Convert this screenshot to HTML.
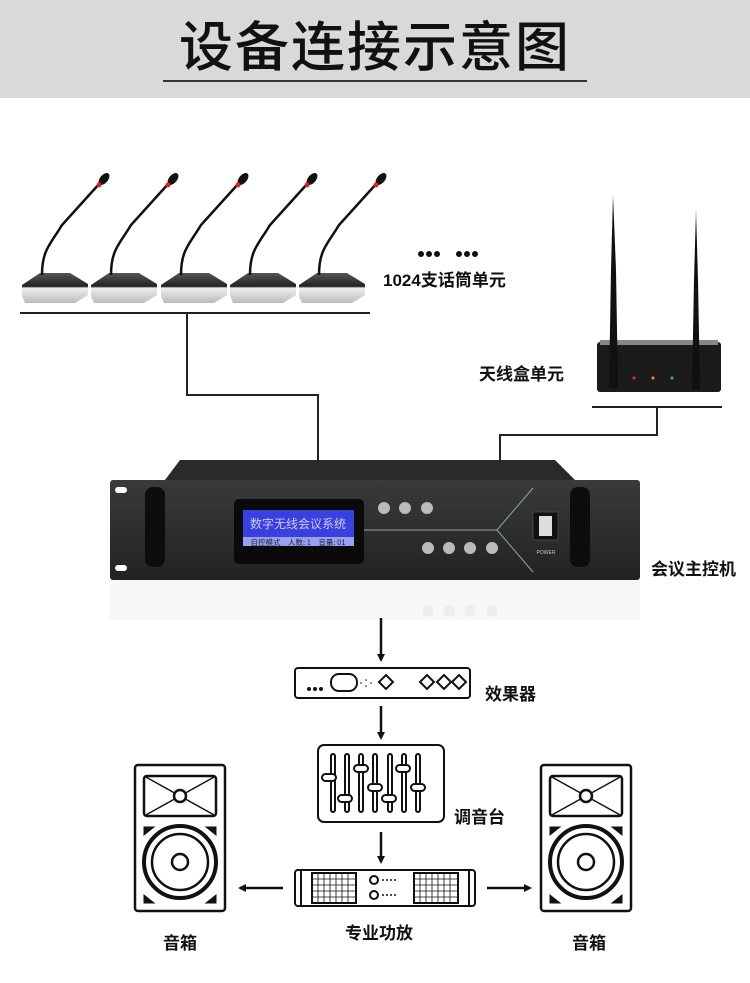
<!DOCTYPE html>
<html><head><meta charset="utf-8"><style>
html,body{margin:0;padding:0;background:#fff;}
body{width:750px;height:983px;overflow:hidden;position:relative;font-family:"Liberation Sans","Noto Sans CJK SC",sans-serif;}
.hd{position:absolute;left:0;top:0;width:750px;height:98px;background:#d9d9d9;}
.t{position:absolute;left:0;width:750px;top:17px;text-align:center;font-size:54px;letter-spacing:2px;color:#111;font-weight:500;line-height:62px;}
.lb{position:absolute;font-weight:bold;color:#111;font-size:17px;white-space:nowrap;}
</style></head><body>
<div class="hd"><div class="t">设备连接示意图</div>
<div style="position:absolute;left:163px;top:80px;width:424px;height:2px;background:#333"></div></div>

<svg width="750" height="983" style="position:absolute;left:0;top:0" xmlns="http://www.w3.org/2000/svg">
<defs>
<linearGradient id="base" x1="0" y1="0" x2="0" y2="1"><stop offset="0" stop-color="#555"/><stop offset="0.45" stop-color="#222"/><stop offset="0.5" stop-color="#eee"/><stop offset="1" stop-color="#bbb"/></linearGradient>
<linearGradient id="chas" x1="0" y1="0" x2="0" y2="1"><stop offset="0" stop-color="#3a3a3a"/><stop offset="1" stop-color="#222"/></linearGradient>
<marker id="ar" markerWidth="8" markerHeight="8" refX="6" refY="4" orient="auto" markerUnits="userSpaceOnUse"><path d="M0,0 L8,4 L0,8 z" fill="#111"/></marker>
</defs>
<g fill="none" stroke="#222" stroke-width="2">
<line x1="20" y1="313" x2="370" y2="313"/>
<polyline points="187,313 187,395 318,395 318,460"/>
<line x1="592" y1="407" x2="722" y2="407"/>
<polyline points="657,407 657,435 500,435 500,460"/>
</g>
<g>
<g id="m">
<path d="M22,285 L40,273 L70,273 L88,284 L88,295 L75,303 L25,303 L22,296 Z" fill="url(#base)"/>
<path d="M42,275 C42,250 50,245 62,225 L100,183" stroke="#111" stroke-width="2.5" fill="none"/>
<ellipse cx="104" cy="179" rx="4" ry="7" transform="rotate(40 104 179)" fill="#111"/>
<circle cx="99" cy="185" r="2.5" fill="#d22"/>
</g>
<use href="#m" x="69"/><use href="#m" x="139"/><use href="#m" x="208"/><use href="#m" x="277"/>
</g>
<g fill="#111"><circle cx="421" cy="254" r="3"/><circle cx="429" cy="254" r="3"/><circle cx="437" cy="254" r="3"/><circle cx="459" cy="254" r="3"/><circle cx="467" cy="254" r="3"/><circle cx="475" cy="254" r="3"/></g>
<rect x="597" y="342" width="124" height="50" rx="3" fill="#1b1b1b"/>
<rect x="600" y="340" width="118" height="5" fill="#888"/>
<path d="M609,388 L611,270 L613,195 L616,270 L618,388Z" fill="#111"/>
<path d="M692,390 L694,280 L696,210 L698,280 L700,390Z" fill="#111"/>
<circle cx="634" cy="378" r="1.5" fill="#f22"/><circle cx="653" cy="378" r="1.5" fill="#f90"/><circle cx="672" cy="378" r="1.5" fill="#3c3"/>
<!-- main unit -->
<rect x="110" y="580" width="530" height="40" fill="#f7f7f7"/>
<path d="M180,460 L555,460 L575,480 L165,480 Z" fill="#2a2a2a"/>
<rect x="110" y="480" width="530" height="100" rx="3" fill="url(#chas)"/>
<rect x="115" y="487" width="12" height="6" rx="3" fill="#fff"/><rect x="115" y="565" width="12" height="6" rx="3" fill="#fff"/>
<rect x="145" y="487" width="20" height="80" rx="8" fill="#0d0d0d"/>
<rect x="570" y="487" width="20" height="80" rx="8" fill="#0d0d0d"/>
<rect x="234" y="499" width="130" height="65" rx="5" fill="#0a0a0a"/>
<rect x="243" y="510" width="111" height="27" fill="#3a3fe0"/>
<rect x="243" y="537" width="111" height="9" fill="#9aa0f0"/>
<text x="298" y="528" font-size="12" fill="#c8cbff" text-anchor="middle" font-family="Noto Sans CJK SC,sans-serif">数字无线会议系统</text>
<text x="298" y="545" font-size="7.5" fill="#223" text-anchor="middle" font-family="Noto Sans CJK SC,sans-serif">自控模式　人数: 1　音量: 01</text>
<g fill="#bbb"><circle cx="384" cy="508" r="6"/><circle cx="405" cy="508" r="6"/><circle cx="427" cy="508" r="6"/>
<circle cx="428" cy="548" r="6"/><circle cx="449" cy="548" r="6"/><circle cx="470" cy="548" r="6"/><circle cx="492" cy="548" r="6"/></g>
<g stroke="#8aa" stroke-width="1" fill="none"><polyline points="364,530 497,530 533,488"/><line x1="497" y1="530" x2="533" y2="572"/></g>
<rect x="533" y="512" width="25" height="28" fill="#111" stroke="#444"/><rect x="539" y="516" width="13" height="20" fill="#ddd"/>
<text x="546" y="554" font-size="5" fill="#ccc" text-anchor="middle">POWER</text>
<g fill="#eee"><circle cx="428" cy="611" r="6"/><circle cx="449" cy="611" r="6"/><circle cx="470" cy="611" r="6"/><circle cx="492" cy="611" r="6"/></g>
<g stroke="#111" stroke-width="2.5" fill="none" marker-end="url(#ar)">
<line x1="381" y1="618" x2="381" y2="660"/>
<line x1="381" y1="706" x2="381" y2="738"/>
<line x1="381" y1="832" x2="381" y2="862"/>
<line x1="283" y1="888" x2="240" y2="888"/>
<line x1="487" y1="888" x2="530" y2="888"/>
</g>
<g stroke="#111" stroke-width="2" fill="none">
<rect x="295" y="668" width="175" height="30" rx="3"/>
<rect x="331" y="674" width="26" height="17" rx="8"/>
<path d="M386,675 l7,7 l-7,7 l-7,-7z M427,675 l7,7 l-7,7 l-7,-7z M444,675 l7,7 l-7,7 l-7,-7z M459,675 l7,7 l-7,7 l-7,-7z"/>
</g>
<g fill="#111"><circle cx="309" cy="689" r="2"/><circle cx="315" cy="689" r="2"/><circle cx="321" cy="689" r="2"/><circle cx="361" cy="683" r="0.8"/><circle cx="366" cy="680" r="0.8"/><circle cx="366" cy="686" r="0.8"/><circle cx="371" cy="683" r="0.8"/></g>
<g stroke="#111" stroke-width="2" fill="none">
<rect x="318" y="745" width="126" height="77" rx="6"/>
<g fill="#fff">
<rect x="331" y="754" width="4" height="58" rx="2"/><rect x="322" y="774" width="14" height="7" rx="3.5"/>
<rect x="345" y="754" width="4" height="58" rx="2"/><rect x="338" y="795" width="14" height="7" rx="3.5"/>
<rect x="359" y="754" width="4" height="58" rx="2"/><rect x="354" y="765" width="14" height="7" rx="3.5"/>
<rect x="373" y="754" width="4" height="58" rx="2"/><rect x="368" y="784" width="14" height="7" rx="3.5"/>
<rect x="388" y="754" width="4" height="58" rx="2"/><rect x="382" y="795" width="14" height="7" rx="3.5"/>
<rect x="402" y="754" width="4" height="58" rx="2"/><rect x="396" y="765" width="14" height="7" rx="3.5"/>
<rect x="416" y="754" width="4" height="58" rx="2"/><rect x="411" y="784" width="14" height="7" rx="3.5"/>
</g>
<rect x="295" y="870" width="180" height="36" rx="3"/>
<line x1="301" y1="870" x2="301" y2="906"/><line x1="469" y1="870" x2="469" y2="906"/>
<rect x="312" y="873" width="44" height="30"/><rect x="414" y="873" width="44" height="30"/>
<circle cx="374" cy="880" r="4"/><circle cx="374" cy="895" r="4"/>
</g>
<g stroke="#111" stroke-width="0.8" fill="none">
<path d="M312,879h44M312,885h44M312,891h44M312,897h44M318,873v30M324,873v30M330,873v30M336,873v30M342,873v30M348,873v30"/>
<path d="M414,879h44M414,885h44M414,891h44M414,897h44M420,873v30M426,873v30M432,873v30M438,873v30M444,873v30M450,873v30"/>
<path d="M382,880h14M382,895h14" stroke-dasharray="2,2" stroke-width="1.5"/>
</g>
<g id="sp" stroke="#111" stroke-width="2.5" fill="none">
<rect x="135" y="765" width="90" height="146" rx="3"/>
<rect x="144" y="776" width="72" height="40" rx="3"/>
<path d="M144,776 L216,816 M216,776 L144,816" stroke-width="1.5"/>
<circle cx="180" cy="796" r="6" fill="#fff"/>
<circle cx="180" cy="862" r="36" stroke-width="4"/>
<circle cx="180" cy="862" r="28"/>
<circle cx="180" cy="862" r="8"/>
<path d="M144,827 l10,0 l-10,8z M216,827 l-10,0 l10,8z M144,903 l10,0 l-10,-8z M216,903 l-10,0 l10,-8z" fill="#111" stroke-width="1"/>
</g>
<use href="#sp" x="406"/>
</svg>

<div class="lb" style="left:383px;top:266px;">1024支话筒单元</div>
<div class="lb" style="left:479px;top:360px;">天线盒单元</div>
<div class="lb" style="left:651px;top:555px;">会议主控机</div>
<div class="lb" style="left:485px;top:680px;">效果器</div>
<div class="lb" style="left:454px;top:803px;">调音台</div>
<div class="lb" style="left:345px;top:919px;">专业功放</div>
<div class="lb" style="left:163px;top:929px;">音箱</div>
<div class="lb" style="left:572px;top:929px;">音箱</div>
</body></html>
